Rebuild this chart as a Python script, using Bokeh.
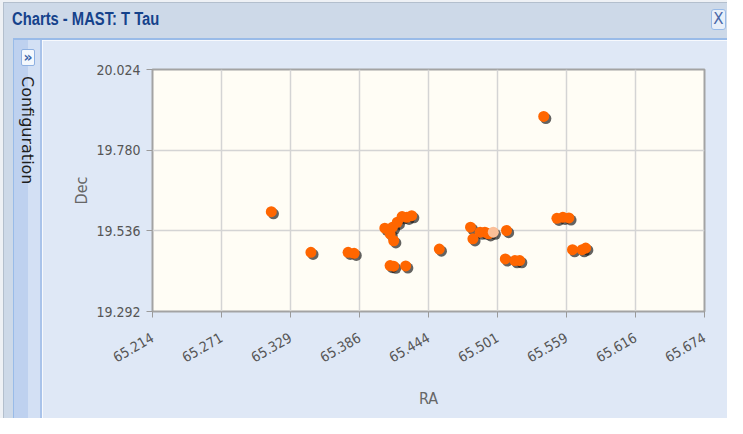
from bokeh.plotting import figure
from bokeh.models import ColumnDataSource, FixedTicker, Range1d, Div
from bokeh.layouts import row, column
from bokeh.transform import dodge
from bokeh.embed import file_html
from bokeh.resources import INLINE

# ---- data ----
ra = [65.313, 65.346, 65.377, 65.382, 65.4076, 65.412, 65.415, 65.414, 65.418,
      65.422, 65.426, 65.430, 65.412, 65.415, 65.425, 65.453, 65.540, 65.479,
      65.481, 65.487, 65.491, 65.494, 65.509, 65.508, 65.516, 65.520, 65.551,
      65.556, 65.561, 65.564, 65.572, 65.575]
dec = [19.594, 19.471, 19.471, 19.468, 19.544, 19.527, 19.506, 19.547, 19.562,
       19.579, 19.577, 19.582, 19.431, 19.429, 19.430, 19.481, 19.882, 19.547,
       19.512, 19.532, 19.532, 19.527, 19.537, 19.451, 19.446, 19.446, 19.574,
       19.577, 19.575, 19.479, 19.479, 19.484]
hl_ra = [65.498]
hl_dec = [19.532]

x_ticks = [65.214, 65.2715, 65.329, 65.3865, 65.444, 65.5015, 65.559, 65.6165, 65.674]
x_tick_labels = ["65.214", "65.271", "65.329", "65.386", "65.444", "65.501", "65.559", "65.616", "65.674"]
y_ticks = [19.292, 19.536, 19.780, 20.024]
y_tick_labels = ["19.292", "19.536", "19.780", "20.024"]

window_title = "Charts - MAST: T Tau"
side_label = "Configuration"

NARROW = "'Liberation Sans Narrow', 'DejaVu Sans Condensed', 'Liberation Sans', sans-serif"

# ---- window chrome (HTML) ----
title_html = f"""
<div style="position:relative;width:727px;height:40px;background:#cdd9e8;overflow:hidden;">
  <div style="position:absolute;left:0;top:0;width:727px;height:2px;background:#eef1f5;"></div>
  <div style="position:absolute;left:0;top:0;width:3px;height:40px;background:#eef1f5;"></div>
  <div style="position:absolute;left:3px;top:2px;width:1px;height:38px;background:#b3bfcd;"></div>
  <div style="position:absolute;left:3px;top:2px;width:724px;height:1px;background:#b3bfcd;"></div>
  <div style="position:absolute;left:12px;top:8px;white-space:nowrap;font-family:'Liberation Sans',Arial,sans-serif;
       font-weight:bold;font-size:18px;line-height:22px;color:#15428b;transform:scaleX(0.82);transform-origin:0 0;">{window_title}</div>
  <div style="position:absolute;left:711px;top:9px;width:15px;height:21px;box-sizing:border-box;border:1px solid #99bbe8;
       border-radius:3px;background:#e8eff9;color:#4a68a8;font-family:'DejaVu Sans',sans-serif;font-size:15px;
       line-height:19px;text-align:center;">X</div>
  <div style="position:absolute;left:13px;top:38px;width:714px;height:2px;background:#99bbe8;"></div>
</div>
"""

side_html = f"""
<div style="position:relative;width:42px;height:378px;background:#cdd9e8;overflow:hidden;">
  <div style="position:absolute;left:0;top:0;width:3px;height:378px;background:#eef1f5;"></div>
  <div style="position:absolute;left:3px;top:0;width:1px;height:378px;background:#b3bfcd;"></div>
  <div style="position:absolute;left:13px;top:0;width:1px;height:378px;background:#99bbe8;"></div>
  <div style="position:absolute;left:14px;top:0;width:14px;height:378px;background:#bed1ef;"></div>
  <div style="position:absolute;left:28px;top:0;width:12px;height:378px;background:#d3e0f4;"></div>
  <div style="position:absolute;left:40px;top:0;width:2px;height:378px;background:#a9c3ea;"></div>
  <div style="position:absolute;left:21px;top:9px;width:14px;height:17px;box-sizing:border-box;border:1px solid #8fb1e2;
       border-radius:2px;background:#f4f8fd;color:#3b63a9;font-family:'DejaVu Sans',sans-serif;font-weight:bold;
       font-size:14px;line-height:14px;text-align:center;">&raquo;</div>
  <div style="position:absolute;left:19px;top:36px;writing-mode:vertical-rl;font-family:'DejaVu Sans',sans-serif;
       font-size:16px;line-height:16px;color:#1e1e1e;white-space:nowrap;">{side_label}</div>
</div>
"""

title_div = Div(text=title_html, width=727, height=40, margin=0)
side_div = Div(text=side_html, width=42, height=378, margin=0)

# ---- chart ----
p = figure(width=685, height=378, output_backend="svg", toolbar_location=None,
           x_range=Range1d(x_ticks[0], x_ticks[-1]), y_range=Range1d(y_ticks[0], y_ticks[-1]),
           min_border_left=110, min_border_right=23, min_border_top=29, min_border_bottom=107,
           background_fill_color="#fffdf5", border_fill_color="#dfe8f6", margin=0)

p.outline_line_color = "#a3a3a3"
p.outline_line_width = 2

src = ColumnDataSource(dict(ra=ra, dec=dec))
hl = ColumnDataSource(dict(ra=hl_ra, dec=hl_dec))

for s in (src, hl):
    p.scatter(x=dodge("ra", 0.0018, range=p.x_range), y=dodge("dec", -0.0065, range=p.y_range),
              source=s, size=11, fill_color="#111111", fill_alpha=0.65, line_color=None)
p.scatter(x="ra", y="dec", source=src, size=11, fill_color="#ff6600", line_color=None)
p.scatter(x="ra", y="dec", source=hl, size=11, fill_color="#fbbf98", line_color=None)

for ax, ticks, labels in ((p.xaxis, x_ticks, x_tick_labels), (p.yaxis, y_ticks, y_tick_labels)):
    ax.ticker = FixedTicker(ticks=ticks)
    ax.major_label_overrides = {t: l for t, l in zip(ticks, labels)}
    ax.axis_line_color = None
    ax.major_tick_line_color = "#9a9a9a"
    ax.major_tick_out = 6
    ax.major_tick_in = 0
    ax.minor_tick_line_color = None
    ax.major_label_text_font = NARROW
    ax.major_label_text_font_size = "14px"
    ax.major_label_text_color = "#555555"
    ax.axis_label_text_font = NARROW
    ax.axis_label_text_font_size = "16px"
    ax.axis_label_text_font_style = "normal"
    ax.axis_label_text_color = "#666666"

p.xaxis.axis_label = "RA"
p.yaxis.axis_label = "Dec"
p.xaxis.major_label_orientation = 0.52
p.xaxis.major_label_standoff = 19
p.xaxis.axis_label_standoff = 19
p.yaxis.major_label_standoff = 6
p.yaxis.axis_label_standoff = 2

p.grid.grid_line_color = "#d4d4d4"
p.grid.grid_line_width = 1.5

layout = column(title_div, row(side_div, p, spacing=0), spacing=0)

open("out.html", "w").write(file_html(layout, INLINE))
